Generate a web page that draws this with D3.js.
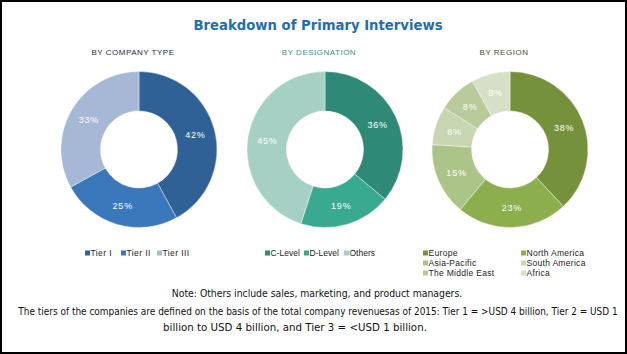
<!DOCTYPE html>
<html>
<head>
<meta charset="utf-8">
<script src="https://d3js.org/d3.v7.min.js"></script>
<style>
	body { margin: 0; background: #fff; }
	svg { display: block; }
</style>
</head>
<body>
<svg id="chart" width="627" height="354"></svg>
<script>
// ==================================
// data
// ==================================
var TITLE = "Breakdown of Primary Interviews";

var companyTypes = ["Tier I", "Tier II", "Tier III"];
var companyShares = [42, 25, 33];
var companyColors = ["#2f6197", "#3a78bb", "#a6b8d6"];

var designations = ["C-Level", "D-Level", "Others"];
var designationShares = [36, 19, 45];
var designationColors = ["#2e8a76", "#39aa8f", "#a5d0c3"];

var regions = ["Europe", "North America", "Asia-Pacific", "South America", "The Middle East", "Africa"];
var regionShares = [38, 23, 15, 8, 8, 8];
var regionColors = ["#76913b", "#8cae4c", "#adc489", "#c7d5b0", "#b9ca9b", "#d6e0c6"];

var notes = [
	"Note: Others include sales, marketing, and product managers.",
	"The tiers of the companies are defined on the basis of the total company revenuesas of 2015: Tier 1 = >USD 4 billion, Tier 2 = USD 1",
	"billion to USD 4 billion, and Tier 3 = <USD 1 billion."
];

// constants
// ==========
var W = 627, H = 354;
var OUTER_R = 78, INNER_R = 38.5;
var DONUT_Y = 149.5;

var svg = d3.select("#chart");

// frame
svg.append("rect")
	.attr("x", 1).attr("y", 1)
	.attr("width", W - 2).attr("height", H - 2)
	.attr("fill", "#fff")
	.attr("stroke", "#000")
	.attr("stroke-width", 2);

// title
svg.append("text")
	.attr("x", 318).attr("y", 30)
	.attr("text-anchor", "middle")
	.attr("font-family", "DejaVu Sans, Verdana, sans-serif")
	.attr("font-weight", "bold")
	.attr("font-size", 14)
	.attr("textLength", 249)
	.attr("lengthAdjust", "spacingAndGlyphs")
	.attr("fill", "#1f6db4")
	.text(TITLE);

// ==================================
// donut
// ==================================
function drawDonut(cx, subtitle, subColor, names, values, colors)
{
	var g = svg.append("g").attr("transform", "translate(" + cx + "," + DONUT_Y + ")");

	svg.append("text")
		.attr("x", cx - 6).attr("y", 55)
		.attr("text-anchor", "middle")
		.attr("font-family", "Liberation Sans, Arial, sans-serif")
		.attr("font-size", 8)
		.attr("letter-spacing", 0.5)
		.attr("fill", subColor)
		.text(subtitle);

	var pie = d3.pie().sort(null).value(function(d) { return d; });
	var arc = d3.arc().innerRadius(INNER_R).outerRadius(OUTER_R);
	var arcs = pie(values);

	g.selectAll("path.slice").data(arcs).enter().append("path")
		.attr("class", "slice")
		.attr("d", arc)
		.attr("fill", function(d, i) { return colors[i]; })
		.attr("stroke", "#fff")
		.attr("stroke-width", 0.4);

	// labels sit at centroid of each ring slice
	g.selectAll("text.lbl").data(arcs).enter().append("text")
		.attr("class", "lbl")
		.attr("transform", function(d) { return "translate(" + arc.centroid(d) + ")"; })
		.attr("dy", "0.35em")
		.attr("text-anchor", "middle")
		.attr("font-family", "Liberation Sans, Arial, sans-serif")
		.attr("font-size", 9)
		.attr("letter-spacing", 0.8)
		.attr("fill", "#fff")
		.text(function(d) { return d.data + "%"; });
}

drawDonut(139, "BY COMPANY TYPE", "#1d2b45", companyTypes, companyShares, companyColors);
drawDonut(325, "BY DESIGNATION", "#3a8e86", designations, designationShares, designationColors);
drawDonut(510, "BY REGION", "#4b4b2c", regions, regionShares, regionColors);

// ==================================
// legends
// ==================================
function legendItem(x, y, name, color, spacing)
{
	svg.append("rect")
		.attr("x", x).attr("y", y - 2.5)
		.attr("width", 5).attr("height", 5)
		.attr("fill", color);
	svg.append("text")
		.attr("x", x + 5.5).attr("y", y)
		.attr("dy", "0.35em")
		.attr("font-family", "Liberation Sans, Arial, sans-serif")
		.attr("font-size", 8.5)
		.attr("letter-spacing", spacing)
		.attr("fill", "#222")
		.text(name);
}

var tierX = [85, 121, 157];
companyTypes.forEach(function(n, i) { legendItem(tierX[i], 253, n, companyColors[i], 0.4); });

var desX = [265, 304, 344];
designations.forEach(function(n, i) { legendItem(desX[i], 253, n, designationColors[i], 0); });

// region legend: two columns, three rows
regions.forEach(function(n, i) {
	var col = i % 2, row = Math.floor(i / 2);
	legendItem(col === 0 ? 423 : 521, 253 + row * 10, n, regionColors[i], 0.3);
});

// ==================================
// notes
// ==================================
// squeeze each line horizontally to the width it has in the picture
var noteX = [317, 318, 295];
var noteY = [297, 315, 331];
var noteLen = [291, 600, 264];
notes.forEach(function(t, i) {
	var g = svg.append("g");
	var txt = g.append("text")
		.attr("x", 0).attr("y", 0)
		.attr("text-anchor", "middle")
		.attr("font-family", "Liberation Sans Narrow, DejaVu Sans Condensed, sans-serif")
		.attr("font-size", 10.5)
		.attr("fill", "#111")
		.text(t);
	var k = noteLen[i] / txt.node().getComputedTextLength();
	g.attr("transform", "translate(" + noteX[i] + "," + noteY[i] + ") scale(" + k + ",1)");
});
</script>
</body>
</html>
